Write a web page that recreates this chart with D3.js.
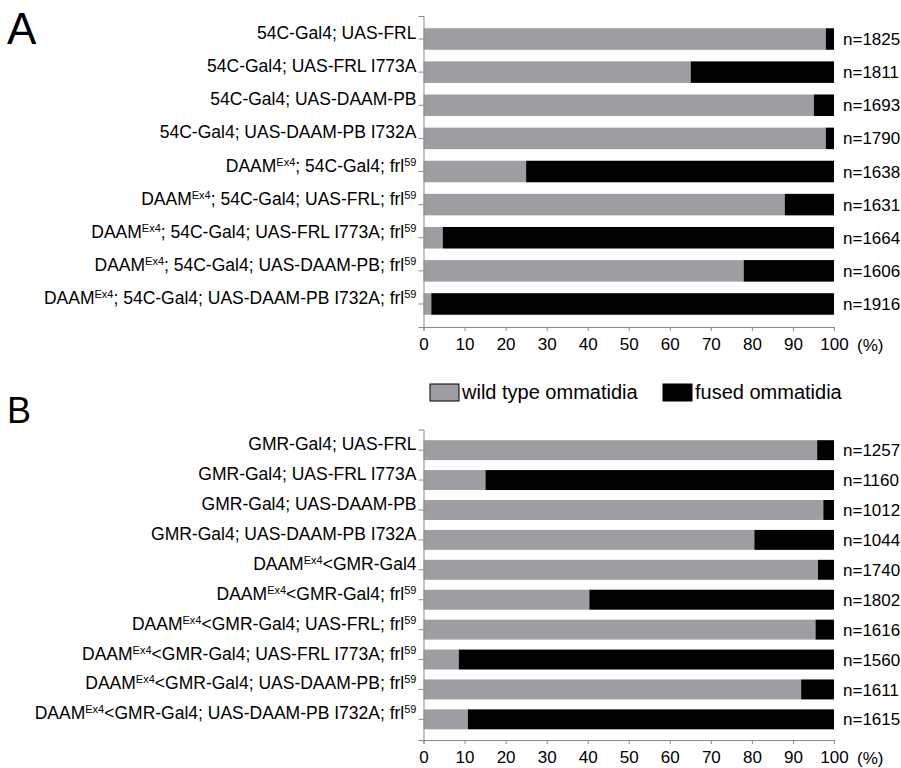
<!DOCTYPE html>
<html>
<head>
<meta charset="utf-8">
<script src="https://cdn.jsdelivr.net/npm/d3@7"></script>
<style>
  body { margin: 0; background: #fff; }
  text { font-family: "Liberation Sans", Arial, sans-serif; fill: #000; }
</style>
</head>
<body>
<script>
// {..} marks a superscript part of a genotype label
const labelsA = [
  '54C-Gal4; UAS-FRL',
  '54C-Gal4; UAS-FRL I773A',
  '54C-Gal4; UAS-DAAM-PB',
  '54C-Gal4; UAS-DAAM-PB I732A',
  'DAAM{Ex4}; 54C-Gal4; frl{59}',
  'DAAM{Ex4}; 54C-Gal4; UAS-FRL; frl{59}',
  'DAAM{Ex4}; 54C-Gal4; UAS-FRL I773A; frl{59}',
  'DAAM{Ex4}; 54C-Gal4; UAS-DAAM-PB; frl{59}',
  'DAAM{Ex4}; 54C-Gal4; UAS-DAAM-PB I732A; frl{59}'
];
const wildA = [98.0, 65.1, 95.1, 98.0, 25.0, 88.0, 4.7, 78.0, 1.9];
const nA = [1825, 1811, 1693, 1790, 1638, 1631, 1664, 1606, 1916];

const labelsB = [
  'GMR-Gal4; UAS-FRL',
  'GMR-Gal4; UAS-FRL I773A',
  'GMR-Gal4; UAS-DAAM-PB',
  'GMR-Gal4; UAS-DAAM-PB I732A',
  'DAAM{Ex4}<GMR-Gal4',
  'DAAM{Ex4}<GMR-Gal4; frl{59}',
  'DAAM{Ex4}<GMR-Gal4; UAS-FRL; frl{59}',
  'DAAM{Ex4}<GMR-Gal4; UAS-FRL I773A; frl{59}',
  'DAAM{Ex4}<GMR-Gal4; UAS-DAAM-PB; frl{59}',
  'DAAM{Ex4}<GMR-Gal4; UAS-DAAM-PB I732A; frl{59}'
];
const wildB = [95.9, 15.1, 97.4, 80.6, 96.1, 40.4, 95.5, 8.6, 92.0, 10.8];
const nB = [1257, 1160, 1012, 1044, 1740, 1802, 1616, 1560, 1611, 1615];

const xTicks = [0, 10, 20, 30, 40, 50, 60, 70, 80, 90, 100];
const seriesNames = ['wild type ommatidia', 'fused ommatidia'];
const colors = ['#9e9ea2', '#000000'];

const width = 901, height = 768;
const svg = d3.select('body').append('svg')
  .attr('width', width).attr('height', height);

const x = d3.scaleLinear().domain([0, 100]).range([423.5, 834]);

function writeLabel(sel, str) {
  sel.text(null);
  let shift = 0;
  str.split(/(\{[^}]*\})/).filter(s => s.length).forEach(part => {
    if (part[0] === '{') {
      sel.append('tspan').attr('font-size', 11).attr('dy', -6).text(part.slice(1, -1));
      shift = 6;
    } else {
      sel.append('tspan').attr('dy', shift).text(part);
      shift = 0;
    }
  });
}

function panel(letter, letterY, letterSize, labels, wild, ns, y0, y1, po, pi) {
  const rows = labels.map((l, i) => ({label: l, wild: wild[i], n: ns[i]}));
  const y = d3.scaleBand()
    .domain(labels)
    .range([y0, y1])
    .paddingInner(pi)
    .paddingOuter(po);

  const g = svg.append('g');

  g.append('text')
    .attr('x', 7).attr('y', letterY)
    .attr('font-size', letterSize)
    .text(letter);

  // bars: wild type (grey) then fused (black)
  const bar = g.append('g').selectAll('g').data(rows).join('g');
  bar.append('rect')
    .attr('x', x(0))
    .attr('y', d => y(d.label))
    .attr('width', d => x(d.wild) - x(0))
    .attr('height', y.bandwidth())
    .attr('fill', colors[0]);
  bar.append('rect')
    .attr('x', d => x(d.wild))
    .attr('y', d => y(d.label))
    .attr('width', d => x(100) - x(d.wild))
    .attr('height', y.bandwidth())
    .attr('fill', colors[1]);

  g.append('g')
    .attr('transform', `translate(${x(0)},0)`)
    .call(d3.axisLeft(y).tickSizeOuter(0).tickSize(5).tickPadding(2))
    .call(a => a.selectAll('line, path').attr('stroke', '#8a8a8a'))
    .call(a => a.selectAll('.tick text')
      .attr('font-size', 17.5)
      .attr('font-family', '"Liberation Sans", Arial, sans-serif')
      .attr('fill', '#000')
      .attr('dy', '0.36em')
      .each(function(d) { writeLabel(d3.select(this), d); }));

  g.append('g')
    .attr('transform', `translate(0,${y1})`)
    .call(d3.axisBottom(x).tickValues(xTicks).tickSizeOuter(0).tickSize(4).tickPadding(7))
    .call(a => a.selectAll('line, path').attr('stroke', '#8a8a8a'))
    .call(a => a.selectAll('.tick text')
      .attr('font-size', 17)
      .attr('font-family', '"Liberation Sans", Arial, sans-serif')
      .attr('fill', '#000'));

  g.append('text')
    .attr('x', 857).attr('y', y1 + 24)
    .attr('font-size', 17)
    .text('(%)');

  g.append('g').selectAll('text').data(rows).join('text')
    .attr('x', 843)
    .attr('y', d => y(d.label) + y.bandwidth() / 2)
    .attr('dy', '0.36em')
    .attr('font-size', 17)
    .text(d => 'n=' + d.n);
}

panel('A', 44, 44, labelsA, wildA, nA, 16, 327, 0.37, 0.35);
panel('B', 423, 36, labelsB, wildB, nB, 429.5, 740, 0.357, 0.333);

// legend
const legend = svg.append('g').attr('transform', 'translate(0,392)');
const legX = [430, 663];
seriesNames.forEach((s, i) => {
  legend.append('rect')
    .attr('x', legX[i]).attr('y', -8)
    .attr('width', 29).attr('height', 17)
    .attr('fill', colors[i])
    .attr('stroke', '#000').attr('stroke-width', 1);
  legend.append('text')
    .attr('x', legX[i] + 32).attr('y', 0)
    .attr('dy', '0.36em')
    .attr('font-size', 20)
    .text(s);
});
</script>
</body>
</html>
